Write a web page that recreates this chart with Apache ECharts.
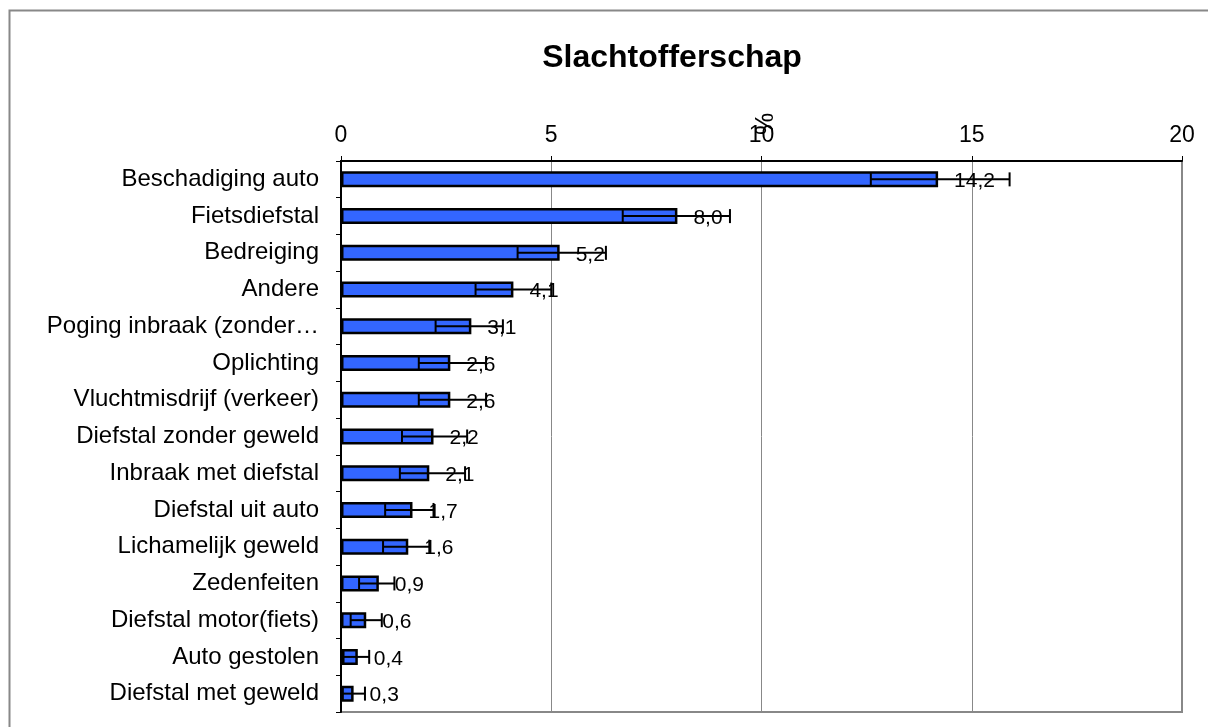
<!DOCTYPE html>
<html>
<head>
<meta charset="utf-8">
<script src="https://cdn.jsdelivr.net/npm/echarts@6/dist/echarts.min.js"></script>
<style>html,body{margin:0;padding:0;background:#fff;}#c{width:1208px;height:727px;}</style>
</head>
<body>
<div id="c"></div>
<script>
var categories = ["Beschadiging auto","Fietsdiefstal","Bedreiging","Andere","Poging inbraak (zonder\u2026","Oplichting","Vluchtmisdrijf (verkeer)","Diefstal zonder geweld","Inbraak met diefstal","Diefstal uit auto","Lichamelijk geweld","Zedenfeiten","Diefstal motor(fiets)","Auto gestolen","Diefstal met geweld"];
var values = [14.2, 8.0, 5.2, 4.1, 3.1, 2.6, 2.6, 2.2, 2.1, 1.7, 1.6, 0.9, 0.6, 0.4, 0.3];
var errLow = [12.6, 6.7, 4.2, 3.2, 2.25, 1.85, 1.85, 1.45, 1.4, 1.05, 1.0, 0.43, 0.23, 0.06, 0.04];
var errHigh = [15.9, 9.25, 6.3, 5.0, 3.85, 3.45, 3.45, 3.0, 2.95, 2.2, 2.1, 1.27, 0.97, 0.67, 0.57];
var xTicks = {min: 0, max: 20, interval: 5};

var FONT = 'Arial, "Liberation Sans", sans-serif';
var errData = categories.map(function (c, i) { return [i, errLow[i], errHigh[i]]; });

var chart = echarts.init(document.getElementById('c'), null, {renderer: 'canvas'});
chart.setOption({
  animation: false,
  backgroundColor: '#fff',
  textStyle: {fontFamily: FONT},
  title: {
    text: 'Slachtofferschap',
    left: 667, top: 37, textAlign: 'center',
    textStyle: {fontFamily: FONT, fontSize: 32, fontWeight: 'bold', color: '#000'}
  },
  graphic: [{
    type: 'rect', left: 7, top: 8, silent: true,
    shape: {x: 0, y: 0, width: 1220, height: 740},
    style: {fill: 'none', stroke: '#888', lineWidth: 2}
  }],
  grid: {
    left: 341, right: 26, top: 161, bottom: 15,
    show: true, borderColor: '#888', borderWidth: 2, backgroundColor: 'transparent'
  },
  xAxis: {
    type: 'value', position: 'top',
    min: xTicks.min, max: xTicks.max, interval: xTicks.interval,
    name: '%', nameLocation: 'middle', nameRotate: -90, nameGap: 26, nameMoveOverlap: false,
    nameTextStyle: {fontFamily: FONT, fontSize: 25, color: '#000'},
    axisLine: {show: true, lineStyle: {color: '#000', width: 2}},
    axisTick: {show: true, length: 5, lineStyle: {color: '#000', width: 1}},
    axisLabel: {fontFamily: FONT, fontSize: 23, color: '#000', margin: 14},
    splitLine: {show: true, lineStyle: {color: '#888', width: 1}}
  },
  yAxis: {
    type: 'category', inverse: true, data: categories,
    axisLine: {show: true, lineStyle: {color: '#000', width: 2}},
    axisTick: {show: true, length: 5, lineStyle: {color: '#000', width: 1}},
    axisLabel: {fontFamily: FONT, fontSize: 24, color: '#000', margin: 22},
    splitLine: {show: false}
  },
  series: [{
    type: 'bar', data: values, barWidth: 16,
    itemStyle: {color: '#3366FF', borderColor: '#000', borderWidth: 2.5},
    label: {
      show: true, position: 'right', distance: 16, offset: [0, 2],
      fontFamily: FONT, fontSize: 21, color: '#000',
      formatter: function (p) { return p.value.toFixed(1).replace('.', ','); }
    },
    z: 2
  }, {
    type: 'custom', data: errData, z: 3,
    encode: {x: [1, 2], y: 0},
    renderItem: function (params, api) {
      var idx = api.value(0);
      var p1 = api.coord([api.value(1), idx]);
      var p2 = api.coord([api.value(2), idx]);
      var h = 7;
      var st = {stroke: '#000', lineWidth: 2, fill: 'none'};
      return {
        type: 'group',
        children: [
          {type: 'line', shape: {x1: p1[0], y1: p1[1], x2: p2[0], y2: p2[1]}, style: st},
          {type: 'line', shape: {x1: p1[0], y1: p1[1] - h, x2: p1[0], y2: p1[1] + h}, style: st},
          {type: 'line', shape: {x1: p2[0], y1: p2[1] - h, x2: p2[0], y2: p2[1] + h}, style: st}
        ]
      };
    }
  }]
});
</script>
</body>
</html>
